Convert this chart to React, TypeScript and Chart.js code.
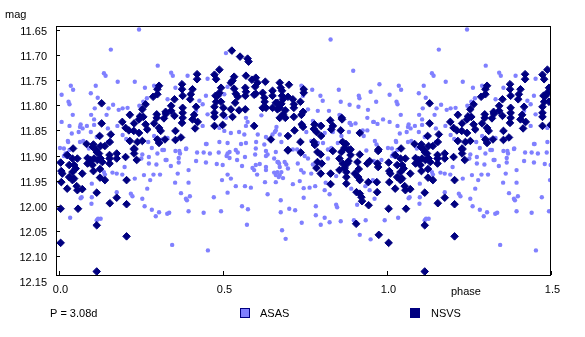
import React, { useEffect, useRef } from "react";
import { Chart, registerables } from "chart.js";

Chart.register(...registerables);

// Phase-folded light curve, phases 0..1 (phase 0..0.5 is repeated at 1..1.5)
const ASAS_PHASE_MAG: [number, number][] = [
  [0.244, 11.649], [0.158, 11.689], [0.301, 11.721], [0.137, 11.736], [0.142, 11.741], [0.036, 11.761], [0.112, 11.761],
  [0.043, 11.769], [0.179, 11.753], [0.231, 11.753], [0.008, 11.779], [0.097, 11.776], [0.262, 11.765], [0.290, 11.761],
  [0.118, 11.785], [0.029, 11.793], [0.032, 11.798], [0.109, 11.806], [0.151, 11.806], [0.165, 11.799], [0.182, 11.809],
  [0.194, 11.806], [0.209, 11.805], [0.216, 11.816], [0.245, 11.801], [0.257, 11.793], [0.268, 11.786], [0.042, 11.819],
  [0.098, 11.819], [0.145, 11.819], [0.107, 11.828], [0.008, 11.833], [0.066, 11.838], [0.085, 11.841], [0.107, 11.839],
  [0.032, 11.841], [0.072, 11.846], [0.178, 11.841], [0.149, 11.846], [0.039, 11.856], [0.060, 11.853], [0.097, 11.853],
  [0.127, 11.861], [0.194, 11.859], [0.027, 11.871], [0.064, 11.873], [0.074, 11.871], [0.149, 11.873], [0.205, 11.867],
  [0.272, 11.873], [0.290, 11.861], [0.315, 11.868], [0.003, 11.885], [0.015, 11.886], [0.091, 11.886], [0.283, 11.885],
  [0.320, 11.889], [0.032, 11.889], [0.064, 11.843], [0.115, 11.863], [0.028, 11.873],
  [0.020, 11.896], [0.025, 11.903], [0.015, 11.901], [0.137, 11.933], [0.163, 11.934], [0.176, 11.936], [0.193, 11.938],
  [0.200, 11.923], [0.254, 11.898], [0.251, 11.906], [0.274, 11.903], [0.274, 11.916], [0.297, 11.918], [0.300, 11.896],
  [0.315, 11.889], [0.325, 11.909], [0.259, 11.939], [0.288, 11.938], [0.308, 11.938], [0.278, 11.949], [0.231, 11.946],
  [0.269, 11.966], [0.100, 11.956], [0.066, 11.985], [0.099, 11.996], [0.176, 11.973], [0.219, 11.976], [0.224, 11.981],
  [0.254, 11.986], [0.261, 12.001], [0.283, 12.008], [0.305, 12.013], [0.295, 12.021], [0.330, 12.016], [0.034, 12.024],
  [0.115, 12.029], [0.127, 12.026], [0.119, 12.026], [0.100, 11.983], [0.069, 11.983], [0.140, 11.938], [0.155, 11.916],
  [0.509, 11.696], [0.342, 11.735], [0.347, 11.741], [0.392, 11.741], [0.453, 11.747], [0.355, 11.765], [0.448, 11.781],
  [0.514, 11.763], [0.438, 11.798], [0.504, 11.778], [0.540, 11.778], [0.331, 11.788], [0.428, 11.791], [0.418, 11.811],
  [0.453, 11.818], [0.509, 11.825], [0.570, 11.825], [0.575, 11.833], [0.570, 11.841], [0.438, 11.841], [0.489, 11.845],
  [0.504, 11.851], [0.524, 11.855], [0.549, 11.853], [0.565, 11.858], [0.606, 11.858], [0.631, 11.863], [0.651, 11.858],
  [0.661, 11.850], [0.331, 11.865], [0.448, 11.877], [0.489, 11.873], [0.514, 11.875], [0.555, 11.877], [0.570, 11.875],
  [0.601, 11.873], [0.626, 11.878], [0.388, 11.886], [0.617, 11.820], [0.663, 11.843], [0.658, 11.853], [0.450, 11.877],
  [0.355, 11.891], [0.367, 11.891], [0.369, 11.896], [0.365, 11.905], [0.365, 11.914], [0.421, 11.894], [0.441, 11.894],
  [0.460, 11.896], [0.487, 11.894], [0.514, 11.896], [0.520, 11.893], [0.511, 11.901], [0.539, 11.889], [0.545, 11.894],
  [0.567, 11.903], [0.598, 11.898], [0.600, 11.886], [0.631, 11.891], [0.636, 11.898], [0.631, 11.901], [0.661, 11.893],
  [0.656, 11.906], [0.666, 11.913], [0.671, 11.916], [0.328, 11.909], [0.341, 11.921], [0.418, 11.911], [0.448, 11.914],
  [0.481, 11.917], [0.499, 11.919], [0.520, 11.905], [0.543, 11.909], [0.558, 11.921], [0.590, 11.925], [0.595, 11.929],
  [0.600, 11.919], [0.612, 11.917], [0.631, 11.923], [0.631, 11.929], [0.656, 11.934], [0.666, 11.933], [0.661, 11.939],
  [0.670, 11.943], [0.362, 11.936], [0.395, 11.929], [0.354, 11.954], [0.395, 11.954], [0.514, 11.938], [0.524, 11.946],
  [0.497, 11.949], [0.604, 11.938], [0.628, 11.953], [0.661, 11.953], [0.539, 11.961], [0.567, 11.961], [0.585, 11.964],
  [0.372, 11.975], [0.399, 11.981], [0.387, 11.986], [0.390, 11.989], [0.472, 11.983], [0.514, 11.974], [0.636, 11.977],
  [0.336, 12.014], [0.395, 12.011], [0.441, 12.014], [0.494, 12.011], [0.558, 12.001], [0.576, 12.007], [0.573, 12.038],
  [0.345, 12.078], [0.454, 12.089], [0.387, 11.887],
  [0.828, 11.669], [0.897, 11.731], [0.977, 11.758], [0.853, 11.769], [0.772, 11.769], [0.739, 11.761], [0.914, 11.781],
  [0.916, 11.786], [0.950, 11.773], [0.797, 11.781], [0.804, 11.791], [0.859, 11.793], [0.886, 11.799], [0.913, 11.803],
  [0.967, 11.793], [0.744, 11.781], [0.759, 11.808], [0.789, 11.811], [0.823, 11.811], [0.942, 11.809], [0.855, 11.819],
  [0.940, 11.825], [0.988, 11.828], [0.960, 11.833], [0.971, 11.837], [0.774, 11.831], [0.795, 11.838], [0.886, 11.835],
  [0.891, 11.839], [0.904, 11.836], [0.810, 11.855], [0.835, 11.853], [0.861, 11.861], [0.884, 11.853], [0.926, 11.850],
  [0.940, 11.850], [0.929, 11.861], [0.754, 11.853], [0.769, 11.871], [0.789, 11.875], [0.805, 11.875], [0.963, 11.871],
  [0.968, 11.878], [0.673, 11.858], [0.678, 11.873], [0.850, 11.875], [0.862, 11.871], [0.820, 11.888], [0.830, 11.885],
  [0.937, 11.890], [0.726, 11.888], [0.713, 11.888], [0.857, 11.820], [0.887, 11.835], [0.958, 11.833],
  [0.668, 11.913], [0.673, 11.923], [0.678, 11.933], [0.673, 11.939], [0.683, 11.945], [0.688, 11.913], [0.693, 11.918],
  [0.728, 11.916], [0.698, 11.926], [0.738, 11.929], [0.746, 11.934], [0.769, 11.936], [0.713, 11.957], [0.734, 11.951],
  [0.746, 11.965], [0.764, 11.964], [0.781, 11.961], [0.813, 11.954], [0.810, 11.969], [0.825, 11.977], [0.746, 11.984],
  [0.845, 11.941], [0.845, 11.998], [0.848, 12.003], [0.891, 11.966], [0.909, 11.998], [0.676, 11.989], [0.702, 12.006],
  [0.720, 12.009], [0.676, 12.013], [0.783, 12.001], [0.783, 12.019], [0.810, 12.024], [0.798, 12.038], [0.825, 12.033],
  [0.859, 12.031], [0.899, 12.029], [0.935, 12.029], [0.993, 12.029], [0.740, 12.034], [0.680, 12.049], [0.691, 12.066],
  [0.917, 12.058], [0.950, 12.067], [0.962, 11.986], [0.934, 11.961], [0.947, 11.969], [0.957, 11.949], [0.960, 11.911],
  [0.983, 11.909], [0.759, 11.906], [0.749, 11.901], [0.774, 11.918], [0.820, 11.906],
];

const NSVS_PHASE_MAG: [number, number][] = [
  [0.130, 11.796], [0.130, 11.836], [0.305, 11.761], [0.300, 11.768], [0.300, 11.778], [0.287, 11.783], [0.264, 11.798],
  [0.254, 11.808], [0.216, 11.819], [0.247, 11.822], [0.257, 11.823], [0.244, 11.828], [0.193, 11.833], [0.229, 11.836],
  [0.264, 11.838], [0.298, 11.818], [0.298, 11.825], [0.325, 11.813], [0.320, 11.826], [0.290, 11.836], [0.203, 11.845],
  [0.213, 11.850], [0.228, 11.851], [0.269, 11.848], [0.244, 11.855], [0.305, 11.845], [0.310, 11.851], [0.124, 11.861],
  [0.158, 11.858], [0.216, 11.871], [0.239, 11.873], [0.254, 11.871], [0.300, 11.868], [0.305, 11.875], [0.323, 11.868],
  [0.084, 11.877], [0.105, 11.878], [0.103, 11.883], [0.127, 11.881], [0.140, 11.881], [0.155, 11.873], [0.043, 11.886],
  [0.114, 11.889], [0.229, 11.888],
  [0.005, 11.914], [0.007, 11.931], [0.010, 11.936], [0.007, 11.953], [0.025, 11.899], [0.041, 11.906], [0.031, 11.919],
  [0.046, 11.919], [0.051, 11.926], [0.041, 11.933], [0.031, 11.943], [0.046, 11.946], [0.041, 11.949], [0.056, 11.906],
  [0.071, 11.936], [0.025, 11.966], [0.054, 11.961], [0.056, 11.969], [0.071, 11.967], [0.087, 11.905], [0.097, 11.909],
  [0.107, 11.906], [0.117, 11.909], [0.087, 11.916], [0.102, 11.919], [0.105, 11.931], [0.115, 11.893], [0.122, 11.896],
  [0.127, 11.906], [0.132, 11.913], [0.125, 11.927], [0.125, 11.944], [0.140, 11.949], [0.115, 11.974], [0.154, 11.899],
  [0.154, 11.906], [0.154, 11.916], [0.176, 11.896], [0.176, 11.906], [0.203, 11.903], [0.229, 11.896], [0.229, 11.886],
  [0.237, 11.909], [0.206, 11.949], [0.176, 11.984], [0.155, 11.995], [0.206, 11.997], [0.005, 12.006], [0.058, 12.006],
  [0.115, 12.039], [0.206, 12.061], [0.005, 12.074], [0.115, 12.131],
  [0.527, 11.691], [0.552, 11.703], [0.575, 11.707], [0.578, 11.713], [0.489, 11.729], [0.474, 11.739], [0.479, 11.748],
  [0.534, 11.743], [0.529, 11.751], [0.524, 11.755], [0.570, 11.741], [0.588, 11.749], [0.600, 11.745], [0.605, 11.755],
  [0.629, 11.753], [0.421, 11.738], [0.421, 11.748], [0.375, 11.758], [0.375, 11.768], [0.407, 11.768], [0.402, 11.778],
  [0.494, 11.765], [0.489, 11.775], [0.484, 11.781], [0.534, 11.767], [0.539, 11.777], [0.545, 11.783], [0.568, 11.765],
  [0.570, 11.773], [0.598, 11.763], [0.600, 11.777], [0.621, 11.775], [0.626, 11.785], [0.651, 11.771], [0.651, 11.781],
  [0.661, 11.795], [0.352, 11.788], [0.377, 11.781], [0.400, 11.788], [0.477, 11.781], [0.479, 11.793], [0.494, 11.793],
  [0.537, 11.795], [0.568, 11.781], [0.595, 11.779], [0.627, 11.793], [0.631, 11.805], [0.651, 11.805], [0.666, 11.795],
  [0.666, 11.808], [0.342, 11.801], [0.342, 11.811], [0.326, 11.817], [0.377, 11.805], [0.377, 11.815], [0.418, 11.803],
  [0.474, 11.803], [0.501, 11.805], [0.524, 11.808], [0.549, 11.810], [0.568, 11.808], [0.621, 11.805], [0.352, 11.821],
  [0.377, 11.825], [0.375, 11.835], [0.412, 11.819], [0.407, 11.828], [0.423, 11.833], [0.415, 11.846], [0.474, 11.815],
  [0.474, 11.823], [0.501, 11.819], [0.474, 11.841], [0.499, 11.839], [0.529, 11.823], [0.595, 11.841], [0.355, 11.851],
  [0.372, 11.864], [0.355, 11.869], [0.646, 11.868],
  [0.673, 11.755], [0.676, 11.765], [0.680, 11.771], [0.680, 11.781], [0.683, 11.788], [0.701, 11.759], [0.746, 11.768],
  [0.746, 11.775], [0.698, 11.783], [0.713, 11.788], [0.716, 11.798], [0.716, 11.805], [0.736, 11.793], [0.678, 11.797],
  [0.673, 11.805], [0.690, 11.810], [0.683, 11.818], [0.690, 11.825], [0.716, 11.823], [0.744, 11.813], [0.739, 11.819],
  [0.673, 11.825], [0.862, 11.825], [0.863, 11.828], [0.740, 11.838], [0.744, 11.843], [0.779, 11.838], [0.777, 11.847],
  [0.799, 11.841], [0.827, 11.830], [0.835, 11.841], [0.830, 11.848], [0.718, 11.850], [0.785, 11.853], [0.799, 11.861],
  [0.859, 11.850], [0.917, 11.855], [0.698, 11.861], [0.777, 11.873], [0.780, 11.879], [0.736, 11.873], [0.865, 11.873],
  [0.875, 11.877], [0.870, 11.885], [0.889, 11.888], [0.974, 11.888], [0.698, 11.890],
  [0.698, 11.889], [0.737, 11.894], [0.788, 11.893], [0.798, 11.898], [0.835, 11.891], [0.861, 11.893], [0.883, 11.889],
  [0.889, 11.899], [0.917, 11.898], [0.973, 11.891], [0.788, 11.913], [0.801, 11.916], [0.785, 11.925], [0.855, 11.906],
  [0.865, 11.916], [0.879, 11.916], [0.871, 11.925], [0.883, 11.911], [0.910, 11.913], [0.914, 11.927], [0.947, 11.911],
  [0.940, 11.916], [0.971, 11.916], [0.973, 11.923], [0.798, 11.936], [0.828, 11.936], [0.855, 11.929], [0.876, 11.933],
  [0.876, 11.943], [0.876, 11.956], [0.902, 11.936], [0.912, 11.943], [0.917, 11.949], [0.943, 11.953], [0.969, 11.953],
  [0.828, 11.957], [0.907, 11.973], [0.917, 11.976], [0.922, 11.983], [0.924, 11.991], [0.970, 11.973], [0.944, 11.999],
  [0.906, 12.036], [0.975, 12.058],
];

const Y_TICKS = [11.65, 11.7, 11.75, 11.8, 11.85, 11.9, 11.95, 12.0, 12.05, 12.1, 12.15];
const X_TICKS = [0, 0.5, 1.0, 1.5];
const Y_AXIS_TITLE = "mag";
const X_AXIS_TITLE = "phase";
const PERIOD_LABEL = "P = 3.08d";
const SERIES_NAMES = ["ASAS", "NSVS"];
const ASAS_COLOR = "#8080ff";
const NSVS_COLOR = "#000080";

function fold(points: [number, number][]) {
  const out: { x: number; y: number }[] = [];
  for (const [p, m] of points) {
    out.push({ x: p, y: m });
    if (p < 0.5) out.push({ x: p + 1, y: m });
  }
  return out;
}

const FONT = '11px "Liberation Sans", Arial, sans-serif';

const decorPlugin = {
  id: "decor",
  afterDatasetsDraw(chart: any) {
    const { ctx, chartArea } = chart;
    const xs = chart.scales.x;
    const ys = chart.scales.y;
    ctx.save();
    ctx.strokeStyle = "#000";
    ctx.lineWidth = 1;
    // frame
    ctx.strokeRect(chartArea.left + 0.5, chartArea.top + 0.5, chartArea.right - chartArea.left - 1, chartArea.bottom - chartArea.top);
    // y ticks + labels
    ctx.font = FONT;
    ctx.fillStyle = "#000";
    ctx.textAlign = "right";
    ctx.textBaseline = "middle";
    for (const v of Y_TICKS) {
      const py = Math.round(ys.getPixelForValue(v));
      if (py > chartArea.top && py < chartArea.bottom) {
        ctx.beginPath();
        ctx.moveTo(chartArea.left, py + 0.5);
        ctx.lineTo(chartArea.left + 4, py + 0.5);
        ctx.stroke();
      }
      ctx.fillText(v.toFixed(2), chartArea.left - 9, py + 1.5);
    }
    // x ticks + labels
    ctx.textAlign = "center";
    ctx.textBaseline = "alphabetic";
    for (const v of X_TICKS) {
      const px = Math.round(xs.getPixelForValue(v));
      ctx.beginPath();
      ctx.moveTo(px + 0.5, chartArea.bottom);
      ctx.lineTo(px + 0.5, chartArea.bottom - 4);
      ctx.stroke();
      ctx.fillText(v.toFixed(1), px + 1.5, chartArea.bottom + 18);
    }
    // axis titles
    ctx.textAlign = "left";
    ctx.fillText(Y_AXIS_TITLE, 5, 18);
    ctx.fillText(X_AXIS_TITLE, 451, chartArea.bottom + 20);
    // footer / legend
    ctx.fillText(PERIOD_LABEL, 50, 317);
    ctx.fillStyle = ASAS_COLOR;
    ctx.fillRect(240, 308, 10, 10);
    ctx.strokeStyle = NSVS_COLOR;
    ctx.strokeRect(240.5, 308.5, 9, 9);
    ctx.fillStyle = "#000";
    ctx.fillText(SERIES_NAMES[0], 260, 317);
    ctx.fillStyle = NSVS_COLOR;
    ctx.fillRect(410, 308, 10, 10);
    ctx.fillStyle = "#000";
    ctx.fillText(SERIES_NAMES[1], 431, 317);
    ctx.restore();
  },
};

export default function App() {
  const ref = useRef<HTMLCanvasElement | null>(null);
  useEffect(() => {
    if (!ref.current) return;
    const chart = new Chart(ref.current, {
      type: "scatter",
      data: {
        datasets: [
          {
            label: SERIES_NAMES[1],
            data: fold(NSVS_PHASE_MAG),
            pointStyle: "rectRot",
            pointRadius: 3.8,
            borderWidth: 1,
            backgroundColor: NSVS_COLOR,
            borderColor: NSVS_COLOR,
            order: 1,
          },
          {
            label: SERIES_NAMES[0],
            data: fold(ASAS_PHASE_MAG),
            pointStyle: "circle",
            pointRadius: 2.2,
            borderWidth: 0,
            backgroundColor: ASAS_COLOR,
            borderColor: ASAS_COLOR,
            order: 2,
          },
        ],
      },
      options: {
        responsive: false,
        animation: false,
        devicePixelRatio: 1,
        layout: { padding: { left: 56, top: 26, right: 34, bottom: 62 } },
        plugins: { legend: { display: false }, tooltip: { enabled: false } },
        scales: {
          x: { type: "linear", min: -0.00915, max: 1.5, display: false },
          y: { type: "linear", min: 11.642, max: 12.138, reverse: true, display: false },
        },
      },
      plugins: [decorPlugin],
    });
    return () => chart.destroy();
  }, []);
  return (
    <div style={{ position: "fixed", left: 0, top: 0, width: 585, height: 337, background: "#fff" }}>
      <canvas ref={ref} width={585} height={337} />
    </div>
  );
}
